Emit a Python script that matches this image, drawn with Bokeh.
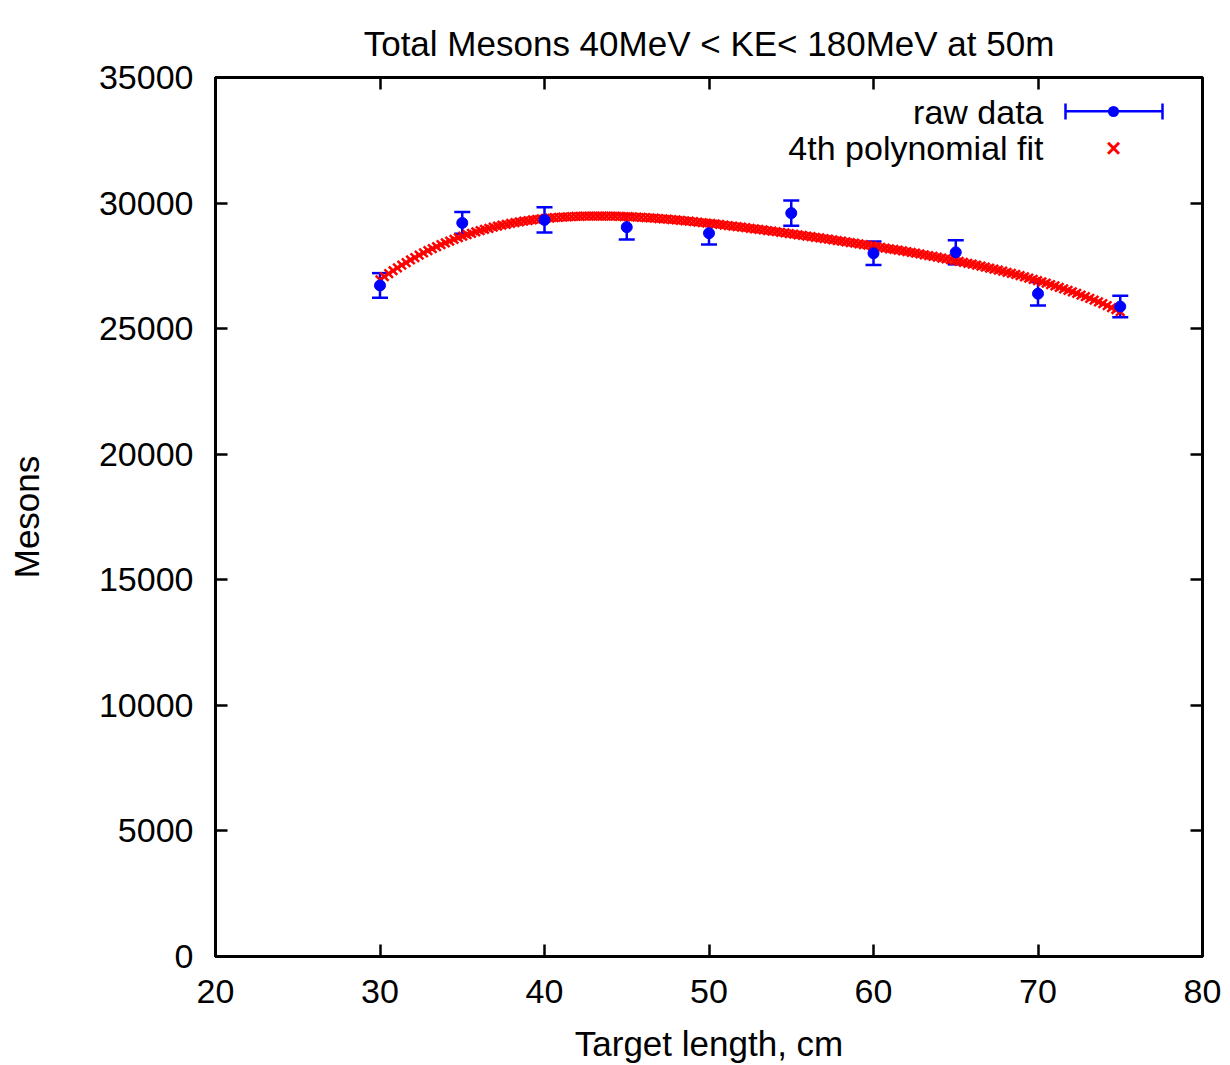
import numpy as np
from bokeh.plotting import figure
from bokeh.models import (ColumnDataSource, Whisker, TeeHead, LinearAxis,
                          SingleIntervalTicker, Label, BoxAnnotation, Range1d,
                          CustomJSTickFormatter)
from bokeh.embed import file_html
from bokeh.resources import INLINE

# ---- data ----
target_length = [30, 35, 40, 45, 50, 55, 60, 65, 70, 75]
mesons = [26720, 29210, 29330, 29040, 28800, 29600, 28000, 28040, 26390, 25880]
mesons_err = [490, 430, 505, 490, 450, 500, 465, 480, 465, 430]
x_ticks_interval = 10
y_ticks_interval = 5000
title_text = "Total Mesons 40MeV < KE< 180MeV at 50m"

FONT = "Liberation Sans"

# 4th order polynomial fit of raw data (as in the chart legend)
coef = np.polyfit(target_length, mesons, 4)
fit_x = np.linspace(min(target_length), max(target_length), 171)
fit_y = np.polyval(coef, fit_x)

p = figure(width=1222, height=1065, output_backend="svg", toolbar_location=None,
           x_range=Range1d(20, 80), y_range=Range1d(0, 35000),
           min_border_left=215, min_border_right=20, min_border_top=77,
           min_border_bottom=109)
p.background_fill_color = "white"
p.border_fill_color = "white"
p.outline_line_color = "black"
p.outline_line_width = 3
p.xgrid.visible = False
p.ygrid.visible = False

p.title.text = title_text
p.title.align = "center"
p.title.vertical_align = "top"
p.title.text_font = FONT
p.title.text_font_size = "35px"
p.title.text_font_style = "normal"
p.title.text_color = "black"
p.title.standoff = 26

def style_axis(ax, labels=True):
    ax.axis_line_color = None
    ax.major_tick_in = 12
    ax.major_tick_out = 0
    ax.major_tick_line_width = 2.5
    ax.major_tick_line_color = "black"
    ax.minor_tick_line_color = None
    ax.major_label_text_font = FONT
    ax.major_label_text_color = "black"
    ax.major_label_text_font_size = "34px"
    if not labels:
        ax.formatter = CustomJSTickFormatter(code="return ''")
        ax.major_label_standoff = 0

xt = SingleIntervalTicker(interval=x_ticks_interval, num_minor_ticks=0)
yt = SingleIntervalTicker(interval=y_ticks_interval, num_minor_ticks=0)
p.xaxis.ticker = xt
p.yaxis.ticker = yt
style_axis(p.xaxis[0])
style_axis(p.yaxis[0])
p.xaxis.major_label_standoff = 23
p.yaxis.major_label_standoff = 22

p.xaxis.axis_label = "Target length, cm"
p.yaxis.axis_label = "Mesons"
for ax in (p.xaxis[0], p.yaxis[0]):
    ax.axis_label_text_font = FONT
    ax.axis_label_text_font_size = "35px"
    ax.axis_label_text_font_style = "normal"
    ax.axis_label_text_color = "black"
p.xaxis.axis_label_standoff = 18
p.yaxis.axis_label_standoff = 50

top = LinearAxis(ticker=SingleIntervalTicker(interval=x_ticks_interval, num_minor_ticks=0))
right = LinearAxis(ticker=SingleIntervalTicker(interval=y_ticks_interval, num_minor_ticks=0))
style_axis(top, labels=False)
style_axis(right, labels=False)
p.add_layout(top, "above")
p.add_layout(right, "right")

# raw data with error bars
src = ColumnDataSource(dict(
    x=target_length, y=mesons,
    upper=[m + e for m, e in zip(mesons, mesons_err)],
    lower=[m - e for m, e in zip(mesons, mesons_err)]))

fit_src = ColumnDataSource(dict(x=fit_x, y=fit_y))
p.scatter("x", "y", source=fit_src, marker="x", size=12, line_color="red",
          line_width=2.5)

wh = Whisker(source=src, base="x", upper="upper", lower="lower", dimension="height",
             line_color="blue", line_width=2.5,
             upper_head=TeeHead(size=16, line_color="blue", line_width=2.5),
             lower_head=TeeHead(size=16, line_color="blue", line_width=2.5))
p.add_layout(wh)
p.scatter("x", "y", source=src, size=11, color="blue")

# ---- gnuplot-style legend (screen units, frame relative) ----
for txt, yy in (("raw data", 845), ("4th polynomial fit", 809)):
    p.add_layout(Label(x=828, y=yy, x_units="screen", y_units="screen", text=txt,
                       text_align="right", text_baseline="middle", text_font=FONT,
                       text_font_size="34px", text_color="black"))
p.add_layout(BoxAnnotation(left=850, right=947, bottom=844, top=846.5,
                           left_units="screen", right_units="screen",
                           bottom_units="screen", top_units="screen",
                           fill_color="blue", fill_alpha=1, line_color=None))
for cx in (850, 947):
    p.add_layout(BoxAnnotation(left=cx - 1.25, right=cx + 1.25, bottom=837, top=853,
                               left_units="screen", right_units="screen",
                               bottom_units="screen", top_units="screen",
                               fill_color="blue", fill_alpha=1, line_color=None))
p.add_layout(BoxAnnotation(left=892.5, right=903.5, bottom=839.5, top=850.5,
                           left_units="screen", right_units="screen",
                           bottom_units="screen", top_units="screen",
                           fill_color="blue", fill_alpha=1, line_color=None,
                           border_radius=6))
p.add_layout(Label(x=898, y=809, x_units="screen", y_units="screen", text="×",
                   text_align="center", text_baseline="middle", text_font=FONT,
                   text_font_size="26px", text_font_style="bold", text_color="red"))

open("out.html", "w").write(file_html(p, INLINE))
